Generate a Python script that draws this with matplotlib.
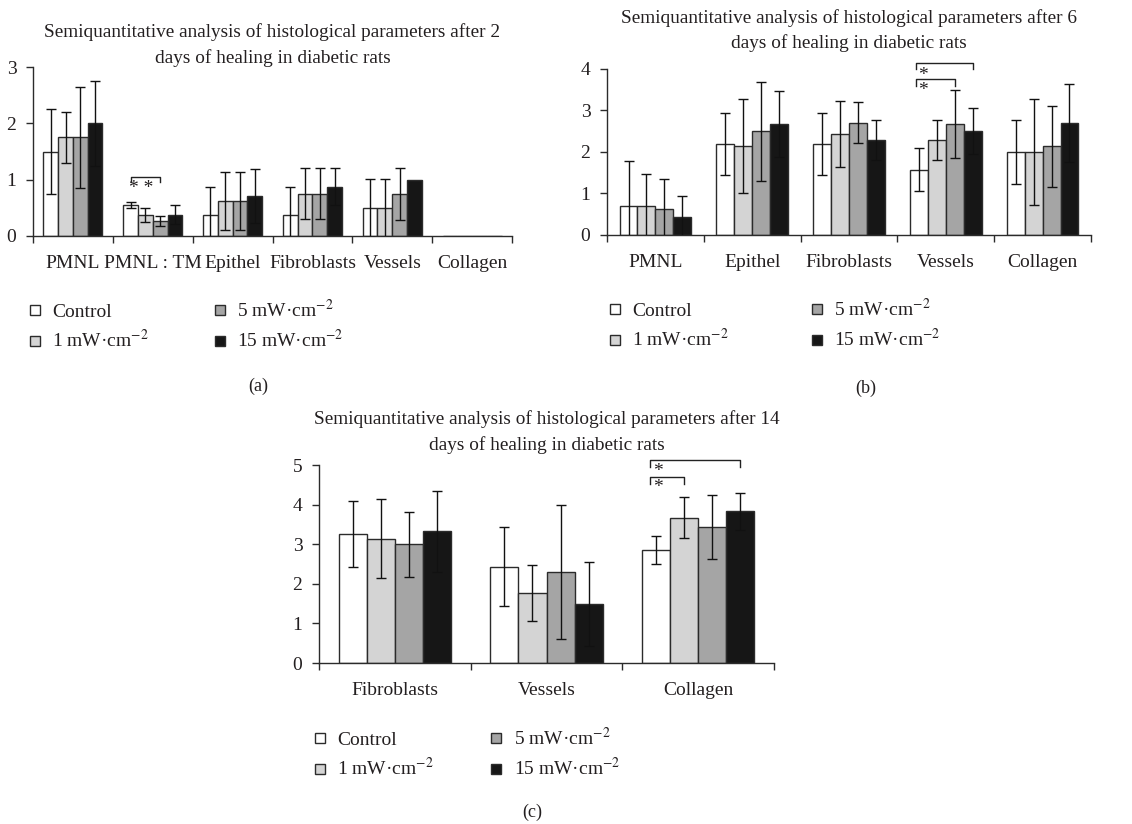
import matplotlib
matplotlib.use('Agg')
import matplotlib.pyplot as plt
from matplotlib.lines import Line2D
import numpy as np

plt.rcParams['font.family'] = ['Liberation Serif', 'DejaVu Serif']
plt.rcParams['mathtext.fontset'] = 'stix'

W, H = 1132, 824

# ---- data ----
groups = ['Control', '1 mW·cm$^{-2}$', '5 mW·cm$^{-2}$', '15 mW·cm$^{-2}$']
colors = ['#ffffff', '#d4d4d4', '#a5a5a5', '#161616']

a_categories = ['PMNL', 'PMNL : TM', 'Epithel', 'Fibroblasts', 'Vessels', 'Collagen']
a_control = [1.5, 0.55, 0.375, 0.375, 0.5, 0]
a_1mw = [1.75, 0.375, 0.625, 0.75, 0.5, 0]
a_5mw = [1.75, 0.27, 0.625, 0.75, 0.75, 0]
a_15mw = [2.0, 0.375, 0.71, 0.875, 1.0, 0]
a_control_err = [0.75, 0.05, 0.5, 0.5, 0.52, 0]
a_1mw_err = [0.46, 0.13, 0.51, 0.45, 0.52, 0]
a_5mw_err = [0.9, 0.09, 0.51, 0.45, 0.46, 0]
a_15mw_err = [0.75, 0.17, 0.48, 0.33, 0, 0]

b_categories = ['PMNL', 'Epithel', 'Fibroblasts', 'Vessels', 'Collagen']
b_control = [0.71, 2.19, 2.19, 1.57, 2.0]
b_1mw = [0.71, 2.14, 2.43, 2.29, 2.0]
b_5mw = [0.625, 2.5, 2.71, 2.67, 2.14]
b_15mw = [0.43, 2.67, 2.29, 2.5, 2.71]
b_control_err = [1.08, 0.75, 0.75, 0.52, 0.76]
b_1mw_err = [0.76, 1.13, 0.79, 0.49, 1.27]
b_5mw_err = [0.72, 1.19, 0.5, 0.82, 0.98]
b_15mw_err = [0.52, 0.8, 0.49, 0.55, 0.94]

c_categories = ['Fibroblasts', 'Vessels', 'Collagen']
c_control = [3.25, 2.43, 2.86]
c_1mw = [3.14, 1.76, 3.67]
c_5mw = [3.0, 2.29, 3.43]
c_15mw = [3.33, 1.5, 3.83]
c_control_err = [0.83, 1.0, 0.35]
c_1mw_err = [0.99, 0.71, 0.51]
c_5mw_err = [0.82, 1.69, 0.8]
c_15mw_err = [1.02, 1.06, 0.46]

titles = [
    'Semiquantitative analysis of histological parameters after 2\ndays of healing in diabetic rats',
    'Semiquantitative analysis of histological parameters after 6\ndays of healing in diabetic rats',
    'Semiquantitative analysis of histological parameters after 14\ndays of healing in diabetic rats',
]

TEXT = '#231f20'
EDGE = '#2b2b2b'
BAR_W = 0.185


def px_rect(left, top, right, bottom):
    return [left / W, 1 - bottom / H, (right - left) / W, (bottom - top) / H]


def draw_panel(ax, categories, series, errs, ymax, title, title_pad):
    n = len(categories)
    centers = np.arange(n) + 0.5
    for k, (vals, err) in enumerate(zip(series, errs)):
        x = centers + (k - 1.5) * BAR_W
        ax.bar(x, vals, BAR_W, color=colors[k], edgecolor=EDGE, linewidth=1.0, zorder=2)
        vals = np.array(vals, dtype=float)
        err = np.array(err, dtype=float)
        m = err > 0
        ax.errorbar(x[m], vals[m], yerr=err[m], fmt='none', ecolor='#111111',
                    elinewidth=1.0, capsize=3.5, capthick=1.0, zorder=3)
    ax.set_xlim(0, n)
    ax.set_ylim(0, ymax)
    ax.set_yticks(range(ymax + 1))
    ax.set_xticks(range(n + 1))
    ax.set_xticklabels([])
    ax.set_xticks(centers, minor=True)
    ax.set_xticklabels(categories, minor=True)
    ax.tick_params(axis='x', which='minor', length=0, pad=14, labelsize=14, colors=TEXT)
    ax.tick_params(axis='x', which='major', length=5, width=1, color=EDGE, direction='out')
    ax.tick_params(axis='y', length=5, width=1, color=EDGE, labelsize=14, labelcolor=TEXT, pad=7)
    for s in ['top', 'right']:
        ax.spines[s].set_visible(False)
    for s in ['left', 'bottom']:
        ax.spines[s].set_color(EDGE)
        ax.spines[s].set_linewidth(1.0)
    ax.set_title(title, fontsize=13.9, color=TEXT, pad=title_pad, linespacing=1.55)
    return centers


def bracket(ax, x0, x1, y, drop, star_y, star_text='*'):
    ax.plot([x0, x0, x1, x1], [y - drop, y, y, y - drop], color='#222222', lw=1.0,
            clip_on=False, zorder=4)
    ax.text(x0 + 0.02, star_y, star_text, fontsize=14, color=TEXT, ha='left', va='center',
            clip_on=False)


def add_legend(fig, x, y, colspace):
    handles = [Line2D([], [], linestyle='none', marker='s', markersize=7,
                      markerfacecolor=c, markeredgecolor=EDGE, markeredgewidth=1.0)
               for c in colors]
    fig.legend(handles, groups, loc='upper left', bbox_to_anchor=(x / W, 1 - y / H),
               ncol=2, frameon=False, fontsize=14, handlelength=0.8, handletextpad=0.5,
               columnspacing=colspace, borderpad=0, borderaxespad=0, labelspacing=0.42,
               labelcolor=TEXT)


fig = plt.figure(figsize=(W / 100, H / 100), dpi=100)

# (a)
ax_a = fig.add_axes(px_rect(33, 67, 512, 236))
ca = draw_panel(ax_a, a_categories, [a_control, a_1mw, a_5mw, a_15mw],
                [a_control_err, a_1mw_err, a_5mw_err, a_15mw_err], 3, titles[0], -2)
x0 = ca[1] - 1.5 * BAR_W
x1 = ca[1] + 0.5 * BAR_W
ax_a.plot([x0, x0, x1, x1], [0.96, 1.05, 1.05, 0.96], color='#222222', lw=1.0, zorder=4)
ax_a.text((x0 + x1) / 2 - 0.05, 0.84, '* *', fontsize=14, color=TEXT, ha='center', va='center')

# (b)
ax_b = fig.add_axes(px_rect(607, 69, 1091, 235))
cb = draw_panel(ax_b, b_categories, [b_control, b_1mw, b_5mw, b_15mw],
                [b_control_err, b_1mw_err, b_5mw_err, b_15mw_err], 4, titles[1], 15)
xc = cb[3] - 1.5 * BAR_W - 0.03
bracket(ax_b, xc, cb[3] + 1.5 * BAR_W, 4.15, 0.14, 3.85)
bracket(ax_b, xc, cb[3] + 0.5 * BAR_W, 3.77, 0.17, 3.48)

# (c)
ax_c = fig.add_axes(px_rect(319, 465, 774, 663))
cc = draw_panel(ax_c, c_categories, [c_control, c_1mw, c_5mw, c_15mw],
                [c_control_err, c_1mw_err, c_5mw_err, c_15mw_err], 5, titles[2], 11)
xc = cc[2] - 1.5 * BAR_W - 0.04
bracket(ax_c, xc, cc[2] + 1.5 * BAR_W, 5.13, 0.17, 4.83)
bracket(ax_c, xc, cc[2] - 0.5 * BAR_W, 4.69, 0.17, 4.42)

# legends
add_legend(fig, 27, 299, 3.25)
add_legend(fig, 607, 298, 4.1)
add_legend(fig, 312, 727, 2.8)

fig.text(258 / W, 1 - 386 / H, '(a)', fontsize=13, color=TEXT, ha='center', va='center')
fig.text(866 / W, 1 - 388 / H, '(b)', fontsize=13, color=TEXT, ha='center', va='center')
fig.text(532 / W, 1 - 812 / H, '(c)', fontsize=13, color=TEXT, ha='center', va='center')

fig.savefig('out.png', dpi=100)
